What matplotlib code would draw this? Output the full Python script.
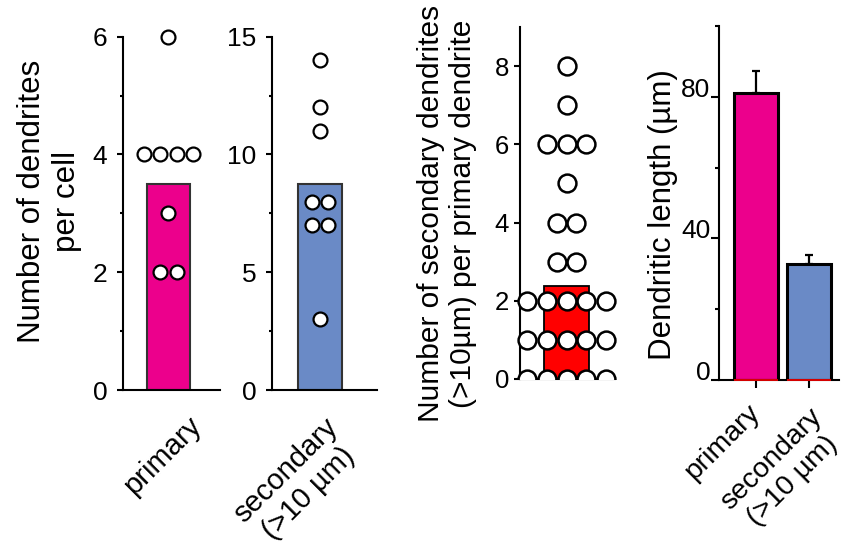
import numpy as np
import matplotlib
matplotlib.use("Agg")
import matplotlib.pyplot as plt
from matplotlib.patches import Rectangle
from matplotlib.ticker import MultipleLocator
from matplotlib.transforms import blended_transform_factory

plt.rcParams['font.family'] = ['Liberation Sans', 'DejaVu Sans']

MAGENTA = '#EC008C'
BLUE = '#6A8AC6'
RED = '#FF0000'

# per-cell dendrite counts
primary_counts = [6, 4, 4, 4, 4, 3, 2, 2]
primary_bar = 3.5
secondary_counts = [14, 12, 11, 8, 8, 7, 7, 3]
secondary_bar = 8.75

# secondary dendrites per primary dendrite
branch_counts = [0] * 5 + [1] * 5 + [2] * 5 + [3, 3, 4, 4, 5, 6, 6, 6, 7, 8]
branch_bar = 2.39

# dendritic length, mean and SEM
length_labels = ['primary', 'secondary\n(>10 µm)']
length_mean = [81.2, 32.8]
length_sem = [6.1, 2.5]
length_colors = [MAGENTA, BLUE]


def swarm_x(values, spacing):
    # spread points that share a value symmetrically around x = 0
    values = np.asarray(values)
    xs = np.zeros(len(values))
    for v in np.unique(values):
        idx = np.where(values == v)[0]
        n = len(idx)
        xs[idx] = (np.arange(n) - (n - 1) / 2) * spacing
    return xs


def style_axes(ax, lw=1.5):
    for side in ['top', 'right']:
        ax.spines[side].set_visible(False)
    for side in ['left', 'bottom']:
        ax.spines[side].set_linewidth(lw)
    ax.tick_params(axis='x', bottom=False, labelbottom=False)


fig = plt.figure(figsize=(8.57, 5.52), dpi=100)
W, H = 857, 552


def add_axes(x0, x1, ytop, ybot):
    return fig.add_axes([x0 / W, (H - ybot) / H, (x1 - x0) / W, (ybot - ytop) / H])


def dot_panel(ax, counts, bar, color, ymax, major, minor, spacing, label, lab_off):
    ax.bar(0, bar, width=0.5, color=color, edgecolor='#333333', linewidth=1.5, zorder=2)
    ax.scatter(swarm_x(counts, spacing), counts, s=100, facecolor='white',
               edgecolor='black', linewidth=1.6, zorder=3, clip_on=False)
    ax.set_ylim(0, ymax)
    ax.yaxis.set_major_locator(MultipleLocator(major))
    ax.yaxis.set_minor_locator(MultipleLocator(minor))
    ax.tick_params(axis='y', which='major', length=4, width=1.5, labelsize=19, pad=7)
    ax.tick_params(axis='y', which='minor', length=2, width=1.5)
    style_axes(ax)
    ax.annotate(label, xy=(0, 0), xycoords='data', xytext=lab_off,
                textcoords='offset pixels', rotation=45, rotation_mode='anchor',
                ha='center', va='center', multialignment='center', fontsize=21,
                annotation_clip=False)


# panel 1: primary dendrites per cell
ax1 = add_axes(122.7, 220, 36.7, 390)
ax1.set_xlim(-0.529, 0.595)
dot_panel(ax1, primary_counts, primary_bar, MAGENTA, 6, 2, 1, 0.185,
          'primary', (-6, -66))
ax1.text(-0.75, 0.535, 'Number of dendrites\nper cell', transform=ax1.transAxes,
         rotation=90, ha='center', va='center', multialignment='center', fontsize=22.5)

# panel 2: secondary dendrites per cell
ax2 = add_axes(271.5, 377, 36.7, 390)
ax2.set_xlim(-0.551, 0.648)
dot_panel(ax2, secondary_counts, secondary_bar, BLUE, 15, 5, 2.5, 0.182,
          'secondary\n(>10 µm)', (-23, -92))

# panel 3: secondary dendrites per primary dendrite
ax3 = add_axes(520, 615, 27, 379)
ax3.set_xlim(-0.517, 0.539)
ax3.bar(0, branch_bar, width=0.5, color=RED, edgecolor='black', linewidth=1.3, zorder=2)
sc = ax3.scatter(swarm_x(branch_counts, 0.222), branch_counts, s=165, facecolor='white',
                 edgecolor='black', linewidth=1.8, zorder=3)
# keep the points above the baseline only
clip_rect = Rectangle((-0.5, 0), 2, 20,
                      transform=blended_transform_factory(ax3.transAxes, ax3.transData))
sc.set_clip_path(clip_rect)
ax3.set_ylim(0, 9)
ax3.set_yticks([0, 2, 4, 6, 8])
ax3.tick_params(axis='y', length=4, width=1.5, labelsize=18.5, pad=4)
style_axes(ax3)
ax3.text(-0.77, 0.47, 'Number of secondary dendrites\n(>10µm) per primary dendrite',
         transform=ax3.transAxes, rotation=90, ha='center', va='center',
         multialignment='center', fontsize=21.5)

# panel 4: dendritic length
ax4 = add_axes(719.3, 839, 26, 380)
ax4.set_xlim(-0.692, 1.566)
xpos = np.arange(len(length_mean))
ax4.bar(xpos, length_mean, width=0.82, color=length_colors, edgecolor='black',
        linewidth=2.2, zorder=2)
ax4.errorbar(xpos, length_mean, yerr=[[0] * len(length_sem), length_sem], fmt='none',
             ecolor='black', elinewidth=1.6, capsize=3, capthick=1.6, zorder=1)
ax4.hlines(np.zeros(len(xpos)), xpos - 0.41, xpos + 0.41, color=RED, linewidth=1.2,
           zorder=4, clip_on=False)
ax4.set_ylim(0, 100)
ax4.set_yticks([0, 40, 80])
ax4.yaxis.set_minor_locator(MultipleLocator(20))
ax4.tick_params(axis='y', which='major', length=6, width=1.5, labelsize=19, pad=0.5)
ax4.tick_params(axis='y', which='minor', length=3, width=1.5)
for side in ['top', 'right']:
    ax4.spines[side].set_visible(False)
for side in ['left', 'bottom']:
    ax4.spines[side].set_linewidth(1.5)
for lbl in ax4.get_yticklabels():
    lbl.set_va('baseline')
ax4.set_xticks(xpos)
ax4.tick_params(axis='x', length=6, width=1.5, labelbottom=False)
for x, lab, off in zip(xpos, length_labels, [(-33, -62), (-27, -90)]):
    ax4.annotate(lab, xy=(x, 0), xycoords='data', xytext=off,
                 textcoords='offset pixels', rotation=45, rotation_mode='anchor',
                 ha='center', va='center', multialignment='center', fontsize=20.5,
                 annotation_clip=False)
ax4.text(-0.47, 0.467, 'Dendritic length (µm)', transform=ax4.transAxes,
         rotation=90, ha='center', va='center', fontsize=22.5)

fig.savefig('out.png', dpi=100)
